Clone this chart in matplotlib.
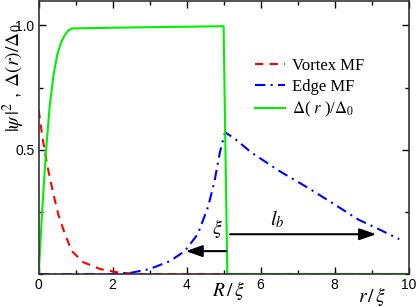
import matplotlib
matplotlib.use("Agg")
import matplotlib.pyplot as plt
from matplotlib.ticker import MultipleLocator

plt.rcParams['mathtext.fontset'] = 'stix'
plt.rcParams['font.family'] = ['Liberation Sans', 'DejaVu Sans']

# vortex MF |psi|^2 (red dashed)
r_vortex = [0.0, 0.1, 0.24, 0.4, 0.53, 0.7, 0.89, 1.2, 1.66, 2.2, 2.8, 10.0]
psi_vortex = [0.66, 0.55, 0.43, 0.32, 0.24, 0.165, 0.093, 0.048, 0.02, 0.005, 0.0, 0.0]

# edge MF |psi|^2 (blue dash-dot)
r_edge = [0.0, 2.0, 2.5, 3.0, 3.55, 3.95, 4.3, 4.58, 4.75, 4.9, 5.04,
          5.3, 5.74, 6.5, 7.28, 8.0, 8.63, 9.2, 9.75]
psi_edge = [0.0, 0.0, 0.005, 0.02, 0.052, 0.092, 0.16, 0.27, 0.37, 0.49, 0.57,
            0.545, 0.49, 0.415, 0.347, 0.28, 0.22, 0.18, 0.14]

# gap profile Delta(r)/Delta_0 (green)
r_gap = [0.0, 0.1, 0.2, 0.3, 0.4, 0.5, 0.6, 0.7, 0.8, 0.9, 2.0, 3.0, 4.0, 5.0, 5.1, 10.0]
gap = [0.0, 0.27, 0.5, 0.68, 0.8, 0.88, 0.93, 0.96, 0.98, 0.988, 0.991, 0.993, 0.995, 0.997, 0.0, 0.0]

labels = ['Vortex MF', 'Edge MF', r'$\Delta$( $r$ )/$\Delta_0$']

fig = plt.figure(figsize=(4.16, 3.07), dpi=100)
ax = fig.add_axes([0.093, 0.1075, 0.889, 0.8905])

ax.plot(r_vortex, psi_vortex, color='#ff0000', ls=(0, (4, 3)), lw=1.5, label=labels[0])
ax.plot(r_edge, psi_edge, color='#0000ff', ls=(0, (5, 2.5, 1, 2.5)), lw=1.5, label=labels[1])
ax.plot(r_gap, gap, color='#00f000', lw=1.5, label=labels[2])

ax.set_xlim(0, 10)
ax.set_ylim(0, 1.1)
ax.xaxis.set_major_locator(MultipleLocator(2))
ax.xaxis.set_minor_locator(MultipleLocator(1))
ax.yaxis.set_minor_locator(MultipleLocator(0.25))
ax.set_yticks([0.5, 1.0])
ax.set_yticklabels(['0.5', '1.0'])
ax.tick_params(which='both', direction='in', top=True, right=True, labelsize=10, pad=3)
ax.tick_params(which='major', length=5, width=1)
ax.tick_params(which='minor', length=3, width=1)
for s in ax.spines.values():
    s.set_linewidth(1.2)
    s.set_color('#333333')

# arrows
ax.annotate('', xy=(3.9, 0.092), xytext=(5.15, 0.092),
            arrowprops=dict(arrowstyle='-|>,head_length=1.0,head_width=0.35', color='k', lw=1.5))
ax.annotate('', xy=(9.2, 0.16), xytext=(5.1, 0.16),
            arrowprops=dict(arrowstyle='-|>,head_length=1.0,head_width=0.35', color='k', lw=1.5))
ax.text(4.83, 0.185, r'$\xi$', fontsize=14, ha='center', va='center')
ax.text(6.45, 0.22, r'$l_b$', fontsize=15, ha='center', va='center')

fig.text(228 / 416, 1 - 290 / 307, r'$R\,/\,\xi$', fontsize=14, ha='center', va='center')
fig.text(372 / 416, 1 - 297 / 307, r'$r\,/\,\xi$', fontsize=14, ha='center', va='center')
fig.text(14 / 416, 1 - 78 / 307, r'$|\psi\,|^2$ , $\Delta(r)/\Delta_0$', fontsize=14,
         rotation=90, ha='center', va='center')

ax.legend(loc='upper left', bbox_to_anchor=(0.585, 0.79), frameon=False,
          prop={'family': 'Liberation Serif', 'size': 12}, handlelength=1.8,
          handletextpad=0.4, labelspacing=0.3, borderpad=0, borderaxespad=0)

fig.savefig('out.png', dpi=100)
